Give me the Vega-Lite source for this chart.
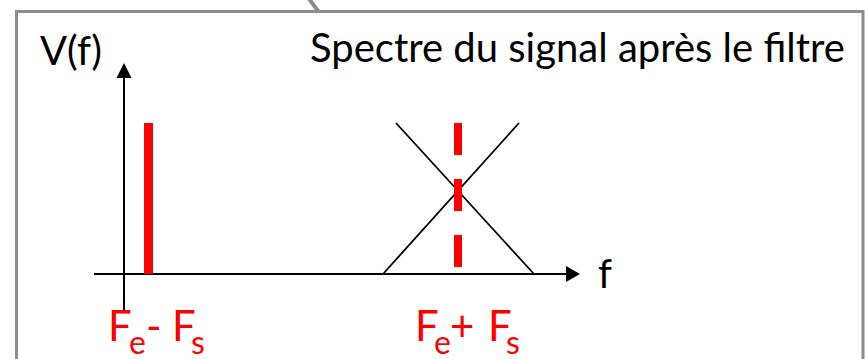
{
  "$schema": "https://vega.github.io/schema/vega-lite/v6.json",
  "width": 865,
  "height": 359,
  "padding": 0,
  "autosize": {"type": "none"},
  "background": "white",
  "config": {"view": {"stroke": null}},
  "datasets": {
    "frame": [{"f1": -107.5, "f2": 739, "a1": 262.5, "a2": -130}],
    "callout": [{"f1": 183, "a1": 278, "f2": 194, "a2": 263}],
    "axes": [{"f1": 0, "f2": 0, "a1": -38, "a2": 196}, {"f1": -30, "f2": 442, "a1": 0, "a2": 0}],
    "arrowUp": [{"f": 0, "a": 203.5}],
    "arrowRight": [{"f": 449, "a": 0}],
    "filterResponse": [{"f1": 259, "a1": 0, "f2": 395, "a2": 151}, {"f1": 272, "a1": 151, "f2": 410, "a2": 0}],
    "lineSolid": [{"f": 24.5, "a0": 0, "a": 151}],
    "lineDashed": [{"f": 334, "a0": 0, "a": 151}],
    "titles": [
      {"f": 186, "a": 212, "t": "Spectre du signal après le filtre"},
      {"f": -84, "a": 209, "t": "V(f)"},
      {"f": 474, "a": -14, "t": "f"}
    ],
    "labels": [
      {"f": -16, "a": -67, "t": "F"},
      {"f": 22, "a": -67, "t": "-"},
      {"f": 48, "a": -67, "t": "F"},
      {"f": 291, "a": -67, "t": "F"},
      {"f": 326, "a": -67, "t": "+"},
      {"f": 364, "a": -67, "t": "F"}
    ],
    "subs": [
      {"f": 5, "a": -80, "t": "e"},
      {"f": 67, "a": -80, "t": "s"},
      {"f": 310, "a": -80, "t": "e"},
      {"f": 382, "a": -80, "t": "s"}
    ]
  },
  "layer": [
    {
      "data": {"name": "frame"},
      "mark": {"type": "rect", "fill": null, "fillOpacity": 0, "stroke": "#8c8c8c", "strokeWidth": 3},
      "encoding": {
        "x": {"field": "f1", "type": "quantitative", "scale": {"domain": [-124, 741], "nice": false, "zero": false}, "axis": null},
        "x2": {"field": "f2"},
        "y": {"field": "a1", "type": "quantitative", "scale": {"domain": [-85, 274], "nice": false, "zero": false}, "axis": null},
        "y2": {"field": "a2"}
      }
    },
    {
      "data": {"name": "callout"},
      "mark": {"type": "rule", "stroke": "#8c8c8c", "strokeWidth": 4},
      "encoding": {
        "x": {"field": "f1", "type": "quantitative"},
        "x2": {"field": "f2"},
        "y": {"field": "a1", "type": "quantitative"},
        "y2": {"field": "a2"}
      }
    },
    {
      "data": {"name": "axes"},
      "mark": {"type": "rule", "stroke": "black", "strokeWidth": 2},
      "encoding": {
        "x": {"field": "f1", "type": "quantitative"},
        "x2": {"field": "f2"},
        "y": {"field": "a1", "type": "quantitative"},
        "y2": {"field": "a2"}
      }
    },
    {
      "data": {"name": "arrowUp"},
      "mark": {"type": "point", "shape": "M0,-1L1,1L-1,1Z", "filled": true, "color": "black", "opacity": 1, "size": 225},
      "encoding": {
        "x": {"field": "f", "type": "quantitative"},
        "y": {"field": "a", "type": "quantitative"}
      }
    },
    {
      "data": {"name": "arrowRight"},
      "mark": {"type": "point", "shape": "M1,0L-1,1.14L-1,-1.14Z", "filled": true, "color": "black", "opacity": 1, "size": 196},
      "encoding": {
        "x": {"field": "f", "type": "quantitative"},
        "y": {"field": "a", "type": "quantitative"}
      }
    },
    {
      "data": {"name": "filterResponse"},
      "mark": {"type": "rule", "stroke": "black", "strokeWidth": 1.8},
      "encoding": {
        "x": {"field": "f1", "type": "quantitative"},
        "x2": {"field": "f2"},
        "y": {"field": "a1", "type": "quantitative"},
        "y2": {"field": "a2"}
      }
    },
    {
      "data": {"name": "lineSolid"},
      "mark": {"type": "rule", "stroke": "#ff0000", "strokeWidth": 9},
      "encoding": {
        "x": {"field": "f", "type": "quantitative"},
        "y": {"field": "a", "type": "quantitative"},
        "y2": {"field": "a0"}
      }
    },
    {
      "data": {"name": "lineDashed"},
      "mark": {"type": "rule", "stroke": "#ff0000", "strokeWidth": 8, "strokeDash": [32, 24]},
      "encoding": {
        "x": {"field": "f", "type": "quantitative"},
        "y": {"field": "a", "type": "quantitative"},
        "y2": {"field": "a0"}
      }
    },
    {
      "data": {"name": "titles"},
      "mark": {"type": "text", "align": "left", "baseline": "alphabetic", "font": "Lato", "fontSize": 40, "color": "black"},
      "encoding": {
        "x": {"field": "f", "type": "quantitative"},
        "y": {"field": "a", "type": "quantitative"},
        "text": {"field": "t"}
      }
    },
    {
      "data": {"name": "labels"},
      "mark": {"type": "text", "align": "left", "baseline": "alphabetic", "font": "Lato", "fontSize": 42, "color": "#ff0000"},
      "encoding": {
        "x": {"field": "f", "type": "quantitative"},
        "y": {"field": "a", "type": "quantitative"},
        "text": {"field": "t"}
      }
    },
    {
      "data": {"name": "subs"},
      "mark": {"type": "text", "align": "left", "baseline": "alphabetic", "font": "Lato", "fontSize": 32, "color": "#ff0000"},
      "encoding": {
        "x": {"field": "f", "type": "quantitative"},
        "y": {"field": "a", "type": "quantitative"},
        "text": {"field": "t"}
      }
    }
  ]
}
